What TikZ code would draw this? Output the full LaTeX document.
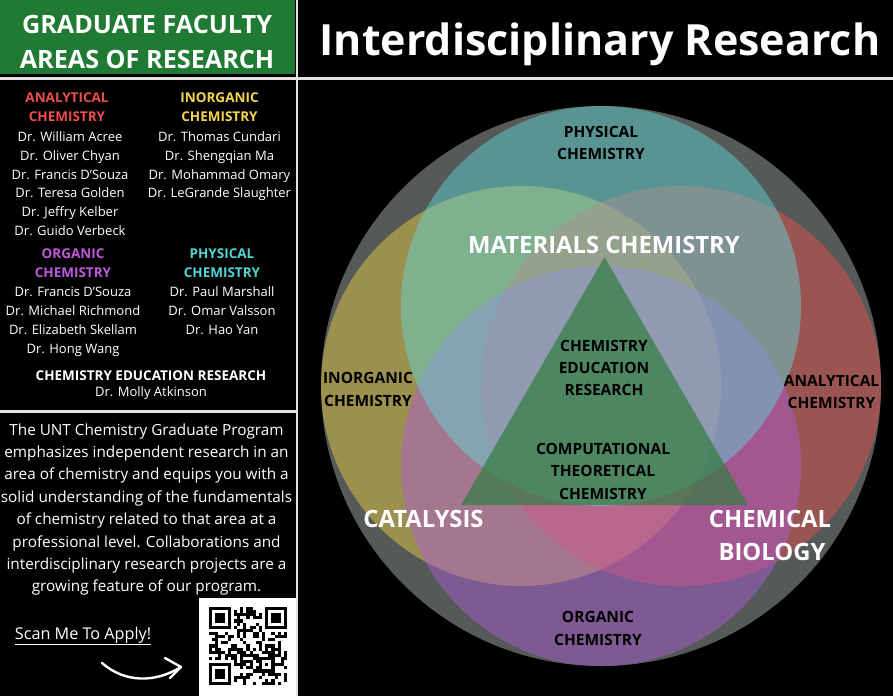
\documentclass[tikz,border=0pt]{standalone}
\usepackage{fontspec}
\setmainfont{Open Sans}
\IfFontExistsTF{Open Sans ExtraBold}{\newfontfamily\xbfont{Open Sans ExtraBold}\def\xbs{0.95}}{\newcommand\xbfont{\bfseries}\def\xbs{1}}
\usetikzlibrary{calc}
\definecolor{bggray}{RGB}{85,90,88}
\definecolor{cOl}{RGB}{243,210,70}
\definecolor{cRd}{RGB}{238,79,75}
\definecolor{cPu}{RGB}{176,90,221}
\definecolor{cTe}{RGB}{96,219,221}
\definecolor{cTri}{RGB}{50,126,64}
\definecolor{hdrgreen}{RGB}{33,122,52}
\definecolor{tAn}{RGB}{240,78,78}
\definecolor{tIn}{RGB}{245,212,80}
\definecolor{tOr}{RGB}{192,88,222}
\definecolor{tPh}{RGB}{84,212,212}
\definecolor{divc}{RGB}{225,225,225}
\tikzset{
  nm/.style={text=white, font=\fontsize{13}{15}\selectfont, anchor=base, inner sep=0pt},
  hd/.style={font=\bfseries\fontsize{13.5}{15}\selectfont, anchor=base, inner sep=0pt},
  para/.style={text=white, font=\fontsize{15.3}{17}\selectfont, anchor=base, inner sep=0pt},
  vl/.style={text=black, font=\bfseries\fontsize{15.5}{17}\selectfont, anchor=base, inner sep=0pt},
  wl/.style={text=white, font=\xbfont\fontsize{\fpeval{23.8*\xbs}}{26}\selectfont, anchor=base, inner sep=0pt},
  hdr/.style={text=white, font=\xbfont\fontsize{\fpeval{25.2*\xbs}}{27}\selectfont, anchor=base, inner sep=0pt},
  venn/.style={circle, minimum size=400pt, inner sep=0pt, fill opacity=0.45, draw=none},
  divider/.style={draw=divc, line width=2.5pt},
}
\begin{document}
\begin{tikzpicture}[x=1pt,y=-1pt]
\useasboundingbox (0,0) rectangle (893,696);
\fill[black] (0,0) rectangle (893,696);
% header
\fill[hdrgreen] (0,0) rectangle (295,74);
\node[hdr] (h1) at (147,33.3) {GRADUATE FACULTY};
\node[hdr] (h2) at (147,68.3) {AREAS OF RESEARCH};
\node[text=white, font=\xbfont\fontsize{\fpeval{43*\xbs}}{45}\selectfont, anchor=base, inner sep=0pt] (title) at (600,55) {Interdisciplinary Research};
% dividers
\draw[divider] (0,78.5) -- (893,78.5);
\draw[divider] (297,0) -- (297,696);
\draw[divider] (0,411.5) -- (297,411.5);
% faculty lists
\node[hd, text=tAn] (anh1) at (67,102.7) {ANALYTICAL};
\node[hd, text=tAn] (anh2) at (67,121.7) {CHEMISTRY};
\foreach \t [count=\i] in {Dr. William Acree, Dr. Oliver Chyan, Dr. Francis D'Souza, Dr. Teresa Golden, Dr. Jeffry Kelber, Dr. Guido Verbeck}
  \node[nm] (an\i) at (70,{141.7+18.7*(\i-1)}) {\t};
\node[hd, text=tIn] (inh1) at (219.5,102.7) {INORGANIC};
\node[hd, text=tIn] (inh2) at (219.5,121.7) {CHEMISTRY};
\foreach \t [count=\i] in {Dr. Thomas Cundari, Dr. Shengqian Ma, Dr. Mohammad Omary, Dr. LeGrande Slaughter}
  \node[nm] (in\i) at (219.5,{141.7+18.7*(\i-1)}) {\t};
\node[hd, text=tOr] (orh1) at (73,258.3) {ORGANIC};
\node[hd, text=tOr] (orh2) at (73,277.3) {CHEMISTRY};
\foreach \t [count=\i] in {Dr. Francis D'Souza, Dr. Michael Richmond, Dr. Elizabeth Skellam, Dr. Hong Wang}
  \node[nm] (or\i) at (73,{296.7+18.9*(\i-1)}) {\t};
\node[hd, text=tPh] (phh1) at (222,258.3) {PHYSICAL};
\node[hd, text=tPh] (phh2) at (222,277.3) {CHEMISTRY};
\foreach \t [count=\i] in {Dr. Paul Marshall, Dr. Omar Valsson, Dr. Hao Yan}
  \node[nm] (ph\i) at (222,{296.7+18.9*(\i-1)}) {\t};
\node[hd, text=white] (edh) at (151,380) {CHEMISTRY EDUCATION RESEARCH};
\node[nm] (ed1) at (151,396) {Dr. Molly Atkinson};
% paragraph
\foreach \t [count=\i] in {The UNT Chemistry Graduate Program, emphasizes independent research in an, area of chemistry and equips you with a, solid understanding of the fundamentals, of chemistry related to that area at a, professional level. Collaborations and, interdisciplinary research projects are a, growing feature of our program.}
  \node[para] (p\i) at (146.5,{435+22.4*(\i-1)}) {\t};
\node[text=white, font=\fontsize{16.2}{18}\selectfont, anchor=base, inner sep=0pt] (scan) at (83,639) {\underline{Scan Me To Apply!}};
% arrow
\coordinate (arrS) at (102,663);
\coordinate (arrE) at (181,667);
\draw[white, line width=2.4pt, line cap=round] (arrS) .. controls (125,683) and (155,683) .. (arrE);
\draw[white, line width=2.4pt, line cap=round, line join=round] (165,658) -- (arrE) -- (170,678);
% QR code
\fill[white] (199,598) rectangle (296,696);
\begin{scope}[shift={(209,607)}]
\pgfmathsetseed{12345}
\foreach \i in {0,...,24}{
  \foreach \j in {0,...,24}{
    \pgfmathtruncatemacro\fz{(((\i<8)&&(\j<8))||((\i>16)&&(\j<8))||((\i<8)&&(\j>16))) ? 1 : 0}
    \ifnum\fz=0
      \pgfmathtruncatemacro\rr{random(0,1)}
      \ifnum\rr=1 \fill[black] (\i*3.12,\j*3.12) rectangle ++(3.12,3.12); \fi
    \fi
  }
}
\foreach \a/\b in {0/0,18/0,0/18}{
  \fill[black] (\a*3.12,\b*3.12) rectangle ++(21.84,21.84);
  \fill[white] ({(\a+1)*3.12},{(\b+1)*3.12}) rectangle ++(15.6,15.6);
  \fill[black] ({(\a+2)*3.12},{(\b+2)*3.12}) rectangle ++(9.36,9.36);
}
\fill[black] (16*3.12,16*3.12) rectangle ++(15.6,15.6);
\fill[white] (17*3.12,17*3.12) rectangle ++(9.36,9.36);
\fill[black] (18*3.12,18*3.12) rectangle ++(3.12,3.12);
\end{scope}
% Venn diagram
\node[circle, minimum size=560pt, inner sep=0pt, fill=bggray] (outer) at (601,386) {};
\node[venn, fill=cOl] (inorg) at (521,386) {};
\node[venn, fill=cRd] (anal) at (681,386) {};
\node[venn, fill=cPu] (organ) at (601,466) {};
\node[venn, fill=cTe] (phys) at (601,306) {};
\coordinate (tA) at (604.5,257);
\coordinate (tL) at (461,505);
\coordinate (tR) at (748,505);
\fill[cTri, fill opacity=0.7] (tA) -- (tL) -- (tR) -- cycle;
% Venn labels
\node[vl] (lph1) at (601,137.3) {PHYSICAL};
\node[vl] (lph2) at (601,159.5) {CHEMISTRY};
\node[vl] (lin1) at (368,383.8) {INORGANIC};
\node[vl] (lin2) at (368,406) {CHEMISTRY};
\node[vl] (lan1) at (831.5,386.3) {ANALYTICAL};
\node[vl] (lan2) at (831.5,408.3) {CHEMISTRY};
\node[vl] (lor1) at (598,622.7) {ORGANIC};
\node[vl] (lor2) at (598,645) {CHEMISTRY};
\node[vl] (led1) at (604,351.7) {CHEMISTRY};
\node[vl] (led2) at (604,373.3) {EDUCATION};
\node[vl] (led3) at (604,395) {RESEARCH};
\node[vl] (lct1) at (603,454) {COMPUTATIONAL};
\node[vl] (lct2) at (603,476.7) {THEORETICAL};
\node[vl] (lct3) at (603,499) {CHEMISTRY};
\node[wl] (lmat) at (604,253) {MATERIALS CHEMISTRY};
\node[wl] (lcat) at (423.5,527) {CATALYSIS};
\node[wl] (lcb1) at (770,527) {CHEMICAL};
\node[wl] (lcb2) at (772,560) {BIOLOGY};
\end{tikzpicture}
\end{document}
